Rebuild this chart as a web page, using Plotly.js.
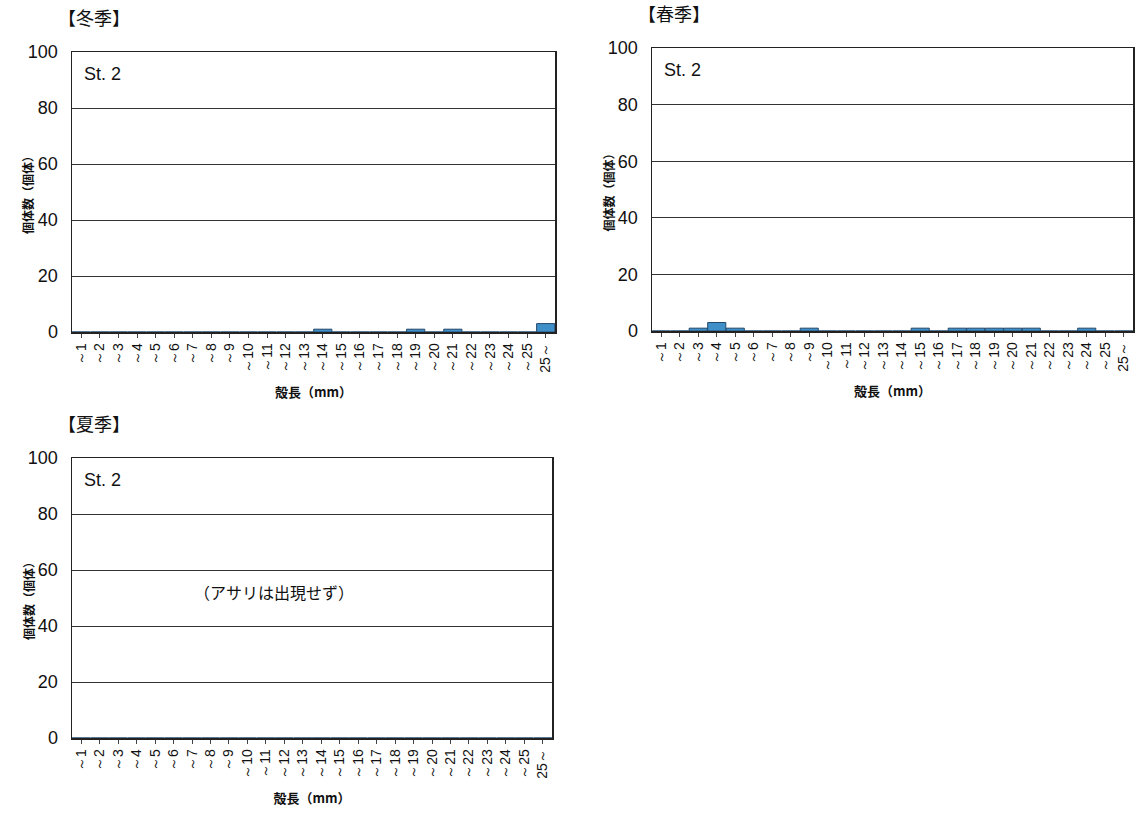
<!DOCTYPE html>
<html><head><meta charset="utf-8">
<script src="https://cdn.plot.ly/plotly-3.0.1.min.js"></script>
<style>html,body{margin:0;padding:0;background:#fff;}#chart{width:1137px;height:815px;}</style>
</head><body><div id="chart"></div>
<script>
const categories = ["～1","～2","～3","～4","～5","～6","～7","～8","～9","～10","～11","～12","～13","～14","～15","～16","～17","～18","～19","～20","～21","～22","～23","～24","～25","25～"];
const winterValues = [0,0,0,0,0,0,0,0,0,0,0,0,0,1,0,0,0,0,1,0,1,0,0,0,0,3];
const springValues = [0,0,1,3,1,0,0,0,1,0,0,0,0,0,1,0,1,1,1,1,1,0,0,1,0,0];
const summerValues = [0,0,0,0,0,0,0,0,0,0,0,0,0,0,0,0,0,0,0,0,0,0,0,0,0,0];
const panelTitles = ["【冬季】","【春季】","【夏季】"];
const stationLabel = "St. 2";
const xTitle = "殻長（mm）";
const yTitle = "個体数（個体）";
const noteSummer = "（アサリは出現せず）";
const yTicks = [0,20,40,60,80,100];

const FONT = "'Noto Sans CJK JP', 'DejaVu Sans', sans-serif";
const NUMFONT = "'Liberation Sans', Arial, sans-serif";
const W = 1137, H = 815;
function dx(a,b){return [a/W,b/W];}
function dy(top,bot){return [1-bot/H,1-top/H];}

const panels = [
  {vals: winterValues, x: dx(72,555), y: dy(52,332)},
  {vals: springValues, x: dx(652,1133), y: dy(48,331)},
  {vals: summerValues, x: dx(72,552), y: dy(458,738)}
];

const data = [];
const layout = {
  width: W, height: H, margin:{l:0,r:0,t:0,b:0},
  paper_bgcolor:'#fff', plot_bgcolor:'#fff',
  showlegend:false, bargap:0.02,
  font:{family:FONT, color:'#111'},
  annotations:[]
};

panels.forEach((p,i)=>{
  const n = i===0 ? '' : String(i+1);
  data.push({
    type:'bar', x:categories, y:p.vals,
    xaxis:'x'+n, yaxis:'y'+n,
    marker:{color:'#3f8fc9', line:{color:'#24486a', width:1}},
    hoverinfo:'skip'
  });
  layout['xaxis'+n] = {
    domain:p.x, anchor:'y'+n, type:'category',
    tickangle:-90, tickfont:{size:14, family:NUMFONT, color:'#111'},
    showline:true, linecolor:'#222', linewidth:1.5, mirror:true,
    ticks:'outside', ticklen:4, tickcolor:'#444',
    showgrid:false, fixedrange:true,
    title:{text:xTitle, font:{size:13, family:FONT, color:'#111', weight:'bold'}, standoff:16}
  };
  layout['yaxis'+n] = {
    domain:p.y, anchor:'x'+n, range:[0,100],
    tickvals:yTicks, ticktext:yTicks.map(String),
    tickfont:{size:18, family:NUMFONT, color:'#111'},
    showline:true, linecolor:'#222', linewidth:1.5, mirror:true,
    showgrid:true, gridcolor:'#333', gridwidth:1,
    ticks:'', ticklabelstandoff:9, zeroline:false, fixedrange:true
  };
  const xd = 'x'+n+' domain', yd = 'y'+n+' domain';
  layout.annotations.push({
    text:yTitle, xref:xd, yref:yd, x:0, y:0.5, xanchor:'center', yanchor:'middle',
    xshift:-44, textangle:-90, showarrow:false,
    font:{size:12, family:FONT, color:'#111', weight:'bold'}
  });
  layout.annotations.push({
    text:panelTitles[i], xref:xd, yref:yd, x:0, y:1, xanchor:'left', yanchor:'bottom',
    xshift:-16, yshift:20, showarrow:false, font:{size:18, family:FONT, color:'#111'}
  });
  layout.annotations.push({
    text:stationLabel, xref:xd, yref:yd, x:0, y:1, xanchor:'left', yanchor:'top',
    xshift:10, yshift:-10, showarrow:false, font:{size:18, family:NUMFONT, color:'#111'}
  });
});
layout.annotations.push({
  text:noteSummer, xref:'x3 domain', yref:'y3', x:0.42, y:52, xanchor:'center', yanchor:'middle',
  showarrow:false, font:{size:16, family:FONT, color:'#111'}
});

Plotly.newPlot('chart', data, layout, {displayModeBar:false, staticPlot:true});
</script></body></html>
